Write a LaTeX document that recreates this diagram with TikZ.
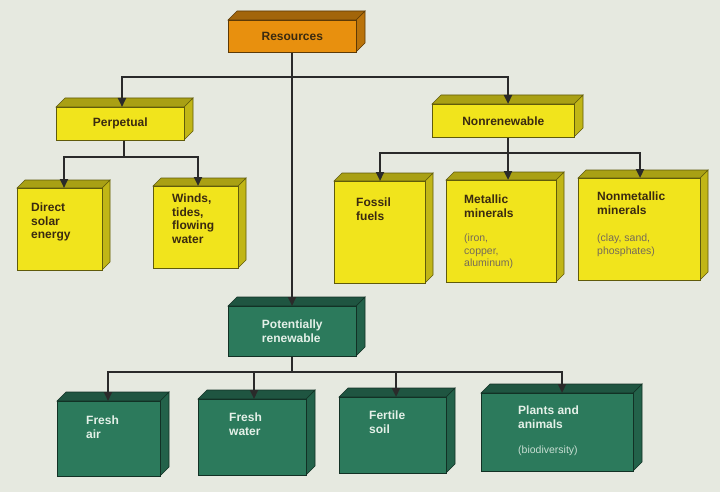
\documentclass[tikz,border=0pt]{standalone}
\usepackage{fontspec}
\setmainfont{Liberation Sans}
\usetikzlibrary{arrows.meta}
\definecolor{bg}{HTML}{E6E9E0}
\definecolor{org}{HTML}{E8900E}
\definecolor{yel}{HTML}{F1E41C}
\definecolor{grn}{HTML}{2C7A5C}
\definecolor{dtxt}{HTML}{3A2A10}
\definecolor{ltxt}{HTML}{E4F0E8}
\definecolor{ln}{HTML}{2A2A2A}
\newcommand\cube[7]{% name, x1,y1,x2,y2, color, depth
  \fill[#6!80!black,draw=#6!40!black,line width=0.6pt] (#4,#3)--(#4+#7,#3-#7)--(#4+#7,#5-#7)--(#4,#5)--cycle;
  \fill[#6!70!black,draw=#6!40!black,line width=0.6pt] (#2,#3)--(#2+#7,#3-#7)--(#4+#7,#3-#7)--(#4,#3)--cycle;
  \node[draw=#6!40!black,fill=#6,line width=0.6pt,inner sep=0,minimum width={(#4-#2)*1pt},minimum height={(#5-#3)*1pt},anchor=north west] (#1) at (#2,#3) {};
}
\tikzset{
  conn/.style={ln,line width=2.2pt},
  arr/.style={conn,-{Triangle[length=9pt,width=8pt]}},
  t/.style={font=\fontsize{12}{13.5}\selectfont\bfseries,align=left,inner sep=0},
  s/.style={font=\fontsize{10.5}{12.5}\selectfont,align=left,inner sep=0},
}
\begin{document}
\begin{tikzpicture}[x=1pt,y=-1pt]
\fill[bg] (0,0) rectangle (720,492);
\useasboundingbox (0,0) rectangle (720,492);
\coordinate (j1) at (292,77);
\coordinate (j2) at (124,157);
\coordinate (j3) at (508,153);
\coordinate (j4) at (292,372);
\cube{res}{228}{20}{356}{52}{org}{9}
\cube{per}{56}{107}{184}{140}{yel}{9}
\cube{non}{432}{104}{574}{137}{yel}{9}
\cube{dir}{17}{188}{102}{270}{yel}{8}
\cube{win}{153}{186}{238}{268}{yel}{8}
\cube{fos}{334}{181}{425}{283}{yel}{8}
\cube{met}{446}{180}{556}{282}{yel}{8}
\cube{nme}{578}{178}{700}{280}{yel}{8}
\cube{pot}{228}{306}{356}{356}{grn}{9}
\cube{air}{57}{401}{160}{476}{grn}{9}
\cube{wat}{198}{399}{306}{475}{grn}{9}
\cube{soi}{339}{397}{446}{473}{grn}{9}
\cube{pla}{481}{393}{633}{471}{grn}{9}
\node[t,text=dtxt] at (res) {Resources};
\node[t,text=dtxt] at (per) {Perpetual};
\node[t,text=dtxt] at (non) {Nonrenewable};
\node[t,text=dtxt,anchor=north west] at (31,203) {Direct\\solar\\energy};
\node[t,text=dtxt,anchor=north west] at (172,194) {Winds,\\tides,\\flowing\\water};
\node[t,text=dtxt,anchor=north west] at (356,198) {Fossil\\fuels};
\node[t,text=dtxt,anchor=north west] at (464,195) {Metallic\\minerals};
\node[s,text=dtxt!70,anchor=north west] at (464,234) {(iron,\\copper,\\aluminum)};
\node[t,text=dtxt,anchor=north west] at (597,192) {Nonmetallic\\minerals};
\node[s,text=dtxt!70,anchor=north west] at (597,234) {(clay, sand,\\phosphates)};
\node[t,text=ltxt] at (pot) {Potentially\\renewable};
\node[t,text=ltxt,anchor=north west] at (86,416) {Fresh\\air};
\node[t,text=ltxt,anchor=north west] at (229,413) {Fresh\\water};
\node[t,text=ltxt,anchor=north west] at (369,411) {Fertile\\soil};
\node[t,text=ltxt,anchor=north west] at (518,406) {Plants and\\animals};
\node[s,text=ltxt!85!grn,anchor=north west] at (518,446) {(biodiversity)};
\draw[arr] (res.south -| j1) -- (pot.north -| j1);
\draw[arr] (j1) -| (per.north -| 122,0);
\draw[arr] (j1) -| (non.north -| 508,0);
\draw[conn] (per.south -| j2) -- (j2);
\draw[arr] (j2) -| (dir.north -| 64,0);
\draw[arr] (j2) -| (win.north -| 198,0);
\draw[conn] (non.south -| j3) -- (j3);
\draw[arr] (j3) -| (fos.north -| 380,0);
\draw[arr] (j3) -- (met.north -| j3);
\draw[arr] (j3) -| (nme.north -| 640,0);
\draw[conn] (pot.south -| j4) -- (j4);
\draw[arr] (j4) -| (air.north -| 108,0);
\draw[arr] (j4) -| (wat.north -| 254,0);
\draw[arr] (j4) -| (soi.north -| 396,0);
\draw[arr] (j4) -| (pla.north -| 562,0);
\end{tikzpicture}
\end{document}
